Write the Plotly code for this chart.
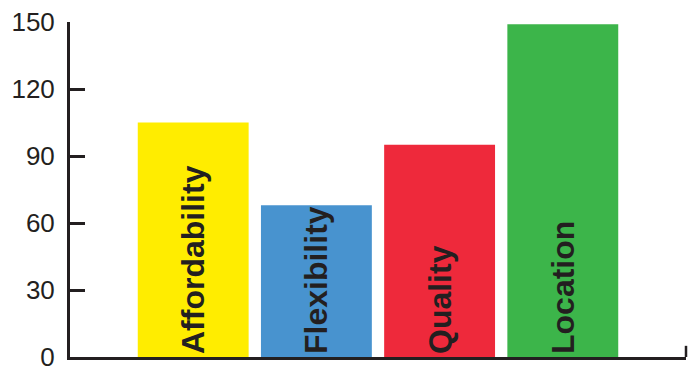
import plotly.graph_objects as go

# Survey factors and their scores
categories = ["Affordability", "Flexibility", "Quality", "Location"]
scores = [105, 68, 95, 149]
bar_colors = ["#FFED00", "#4893CF", "#EE293B", "#3CB54A"]
y_ticks = [0, 30, 60, 90, 120, 150]

INK = "#231f20"
FONT = "Liberation Sans, Arial, Helvetica, sans-serif"

fig = go.Figure(
    go.Bar(
        x=categories,
        y=scores,
        marker=dict(color=bar_colors, line=dict(width=0)),
        text=categories,
        textposition="inside",
        insidetextanchor="start",
        textangle=-90,
        constraintext="none",
        textfont=dict(family=FONT, size=32, color=INK, weight="bold"),
        hoverinfo="x+y",
    )
)

fig.update_layout(
    template="none",
    width=697,
    height=370,
    margin=dict(l=70, r=11, t=22, b=13, autoexpand=False),
    paper_bgcolor="white",
    plot_bgcolor="white",
    showlegend=False,
    bargap=0.1,
    xaxis=dict(
        type="category",
        range=[-1, 4],
        showline=True,
        linecolor=INK,
        linewidth=2.5,
        showticklabels=False,
        ticks="",
        showgrid=False,
        zeroline=False,
        automargin=False,
    ),
    yaxis=dict(
        range=[0, 150],
        tickmode="array",
        tickvals=y_ticks,
        # trailing non-breaking space sets the labels a little further off the line
        ticktext=[f"{v}&nbsp;\u200b" for v in y_ticks],
        showline=True,
        linecolor=INK,
        linewidth=2.5,
        ticks="inside",
        ticklen=15,
        tickwidth=2.5,
        tickcolor=INK,
        ticklabeloverflow="allow",
        tickfont=dict(family=FONT, size=26, color=INK),
        showgrid=False,
        zeroline=False,
        automargin=False,
    ),
    shapes=[
        # short upward tick closing the right end of the baseline
        dict(
            type="line",
            xref="x domain",
            yref="y",
            x0=1,
            x1=1,
            y0=0,
            y1=5,
            line=dict(color=INK, width=2.5),
        )
    ],
)

fig.write_html("out.html")
